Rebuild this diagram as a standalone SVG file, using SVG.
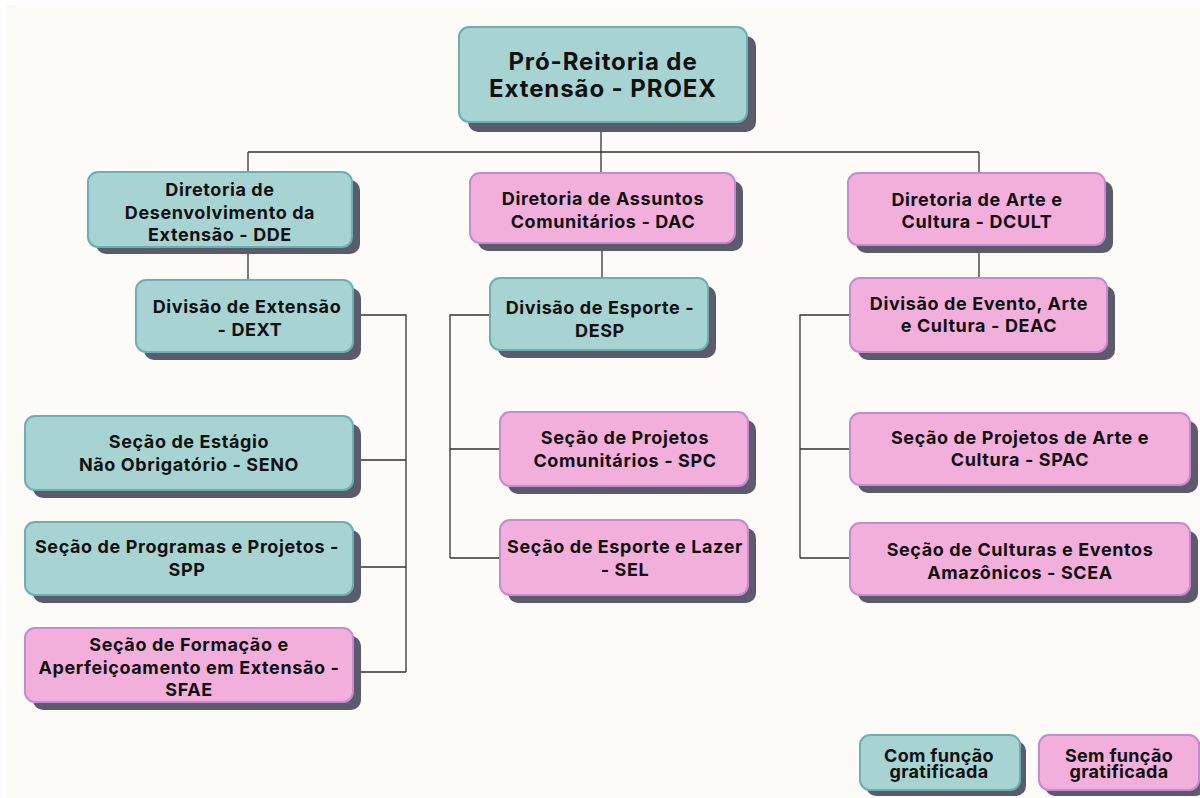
<svg xmlns="http://www.w3.org/2000/svg" width="1200" height="798" viewBox="0 0 1200 798">
<style>
.sh{fill:#5c5b6b}
.t{fill:#a8d3d3;stroke:#6bb0b0;stroke-width:2}
.p{fill:#f2afdb;stroke:#c48ad3;stroke-width:2}
text{font-family:Inter,"Noto Sans","Liberation Sans",sans-serif;font-weight:700;fill:#111;text-anchor:middle;font-size:18px;letter-spacing:0.6px}
.big{font-size:24px;letter-spacing:0.9px}
.leg{font-size:18px;letter-spacing:0.3px}
.c{stroke:#333;stroke-width:1.3;fill:none}
</style>
<rect width="1200" height="798" fill="#ffffff"/>
<rect x="6" y="5" width="1194" height="793" fill="#fcfbf7"/>
<g id="connectors">
<path class="c" d="M601 122V152M248 152H979M248 152V172M601 152V173M979 152V173"/>
<path class="c" d="M248 247V280M352 315H406V672M353 460H406M353 567H406M353 672H406"/>
<path class="c" d="M602 243V278M490 315H450V558M450 449H500M450 558H500"/>
<path class="c" d="M979 245V278M850 315H800V558M800 449H850M800 558H850"/>
</g>
<g id="proex"><rect class="sh" x="468" y="36" width="288" height="96" rx="10"/><rect class="t" x="459" y="27" width="288" height="95" rx="10"/><text class="big" x="603" y="70">Pró-Reitoria de</text><text class="big" x="603" y="97">Extensão - PROEX</text></g>
<g id="dde"><rect class="sh" x="96" y="180" width="264" height="74" rx="10"/><rect class="t" x="88" y="172" width="264" height="75" rx="10"/><text x="220" y="196">Diretoria de</text><text x="220" y="219">Desenvolvimento da</text><text x="220" y="241">Extensão - DDE</text></g>
<g id="dext"><rect class="sh" x="144" y="288" width="217" height="72" rx="10"/><rect class="t" x="136" y="280" width="217" height="72" rx="10"/><text x="247" y="313">Divisão de Extensão</text><text x="250" y="336">- DEXT</text></g>
<g id="seno"><rect class="sh" x="33" y="424" width="328" height="74" rx="10"/><rect class="t" x="25" y="416" width="328" height="74" rx="10"/><text x="189" y="448">Seção de Estágio</text><text x="189" y="471">Não Obrigatório - SENO</text></g>
<g id="spp"><rect class="sh" x="33" y="530" width="328" height="73" rx="10"/><rect class="t" x="25" y="522" width="328" height="73" rx="10"/><text x="187" y="553">Seção de Programas e Projetos -</text><text x="187" y="576">SPP</text></g>
<g id="sfae"><rect class="sh" x="33" y="636" width="328" height="74" rx="10"/><rect class="p" x="25" y="628" width="328" height="74" rx="10"/><text x="189" y="651">Seção de Formação e</text><text x="189" y="674">Aperfeiçoamento em Extensão -</text><text x="189" y="696">SFAE</text></g>
<g id="dac"><rect class="sh" x="478" y="181" width="265" height="70" rx="10"/><rect class="p" x="470" y="173" width="265" height="70" rx="10"/><text x="603" y="205">Diretoria de Assuntos</text><text x="603" y="228">Comunitários - DAC</text></g>
<g id="desp"><rect class="sh" x="498" y="286" width="218" height="72" rx="10"/><rect class="t" x="490" y="278" width="218" height="72" rx="10"/><text x="600" y="314">Divisão de Esporte -</text><text x="600" y="337">DESP</text></g>
<g id="spc"><rect class="sh" x="508" y="420" width="248" height="74" rx="10"/><rect class="p" x="500" y="412" width="248" height="74" rx="10"/><text x="625" y="444">Seção de Projetos</text><text x="625" y="467">Comunitários - SPC</text></g>
<g id="sel"><rect class="sh" x="508" y="528" width="248" height="75" rx="10"/><rect class="p" x="500" y="520" width="248" height="75" rx="10"/><text x="625" y="553">Seção de Esporte e Lazer</text><text x="625" y="576">- SEL</text></g>
<g id="dcult"><rect class="sh" x="856" y="181" width="257" height="72" rx="10"/><rect class="p" x="848" y="173" width="257" height="72" rx="10"/><text x="977" y="206">Diretoria de Arte e</text><text x="977" y="228">Cultura - DCULT</text></g>
<g id="deac"><rect class="sh" x="858" y="286" width="257" height="74" rx="10"/><rect class="p" x="850" y="278" width="257" height="74" rx="10"/><text x="979" y="310">Divisão de Evento, Arte</text><text x="979" y="332">e Cultura - DEAC</text></g>
<g id="spac"><rect class="sh" x="858" y="421" width="340" height="72" rx="10"/><rect class="p" x="850" y="413" width="340" height="72" rx="10"/><text x="1020" y="444">Seção de Projetos de Arte e</text><text x="1020" y="466">Cultura - SPAC</text></g>
<g id="scea"><rect class="sh" x="858" y="531" width="340" height="72" rx="10"/><rect class="p" x="850" y="523" width="340" height="72" rx="10"/><text x="1020" y="556">Seção de Culturas e Eventos</text><text x="1020" y="579">Amazônicos - SCEA</text></g>
<g id="legend-com"><rect class="sh" x="866" y="741" width="160" height="55" rx="10"/><rect class="t" x="860" y="735" width="160" height="55" rx="10"/><text class="leg" x="939" y="762">Com função</text><text class="leg" x="939" y="778">gratificada</text></g>
<g id="legend-sem"><rect class="sh" x="1045" y="741" width="160" height="55" rx="10"/><rect class="p" x="1039" y="735" width="160" height="55" rx="10"/><text class="leg" x="1119" y="762">Sem função</text><text class="leg" x="1119" y="778">gratificada</text></g>
</svg>
